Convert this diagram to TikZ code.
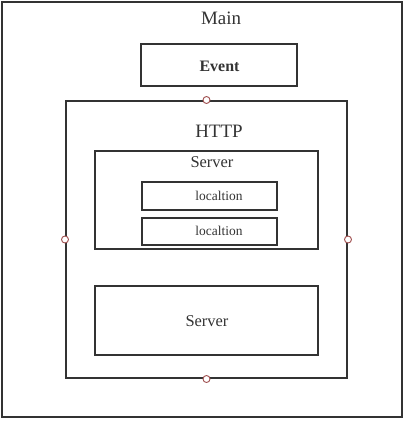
\documentclass[tikz,border=0pt]{standalone}
\usepackage{fontspec}
\setmainfont{Liberation Serif}
\begin{document}
\begin{tikzpicture}[x=1bp,y=-1bp,
  box/.style={draw=linec, line width=2bp, fill=none, inner sep=0pt},
  lbl/.style={text=txtc, inner sep=0pt, anchor=center},
  port/.style={circle, draw=portc, fill=white, line width=0.9bp, minimum size=7bp, inner sep=0pt}]
\definecolor{linec}{HTML}{333333}
\definecolor{txtc}{HTML}{333333}
\definecolor{portc}{HTML}{A05050}
\useasboundingbox (0,0) rectangle (404,421);
\node[box, minimum width=400bp, minimum height=415bp] (main) at (202,209.5) {};
\node[lbl, font=\fontsize{19}{22}\selectfont] (maint) at (221,18) {Main};
\node[box, minimum width=156bp, minimum height=42bp] (event) at (219,65) {};
\node[lbl, font=\fontsize{16}{19}\selectfont\bfseries] (eventt) at (219.5,66) {Event};
\node[box, minimum width=281bp, minimum height=277bp] (http) at (206.5,239.5) {};
\node[lbl, font=\fontsize{19}{22}\selectfont] (httpt) at (219,131) {HTTP};
\node[box, minimum width=223bp, minimum height=98bp] (srv1) at (206.5,200) {};
\node[lbl, font=\fontsize{16.5}{19}\selectfont] (srv1t) at (212,162) {Server};
\node[box, minimum width=135bp, minimum height=28bp] (loc1) at (209.5,196) {};
\node[lbl, font=\fontsize{13.5}{16}\selectfont] (loc1t) at (219,196) {localtion};
\node[box, minimum width=135bp, minimum height=27bp] (loc2) at (209.5,231.5) {};
\node[lbl, font=\fontsize{13.5}{16}\selectfont] (loc2t) at (219,231) {localtion};
\node[box, minimum width=223bp, minimum height=69bp] (srv2) at (206.5,320.5) {};
\node[lbl, font=\fontsize{16.5}{19}\selectfont] (srv2t) at (207,321) {Server};
\node[port] (pn) at (http.north) {};
\node[port] (ps) at (http.south) {};
\node[port] (pw) at (http.west) {};
\node[port] (pe) at (http.east) {};
\end{tikzpicture}
\end{document}
